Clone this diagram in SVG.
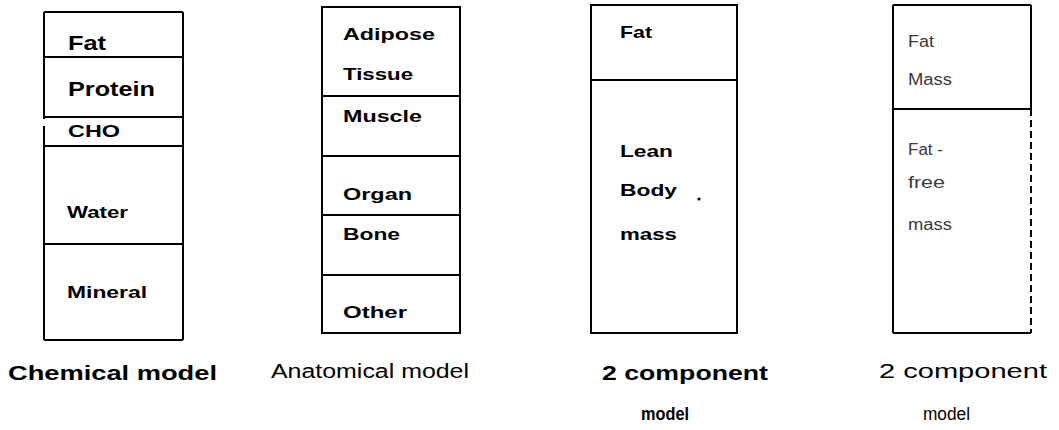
<svg xmlns="http://www.w3.org/2000/svg" width="1059" height="430" viewBox="0 0 1059 430">
<style>
.box{fill:#fff;stroke:#000;stroke-width:2}
.div{stroke:#000;stroke-width:2;fill:none}
.dash{stroke:#000;stroke-width:2;fill:none;stroke-dasharray:7 4}
text{font-family:"Liberation Sans",Arial,sans-serif;fill:#000}
.lb{font-size:21px;font-weight:bold}
.lm{font-size:17px;font-weight:bold}
.lf{font-size:16px;fill:#3a3a3a}
.cap{font-size:21px;font-weight:bold}
.capn{font-size:20px}
.mod{font-size:18px;font-weight:bold}
.modn{font-size:18px}
</style>
<rect width="1059" height="430" fill="#fff"/>

<g id="chemical-model">
<line class="div" x1="44" y1="12" x2="183" y2="12"/>
<line class="div" x1="183" y1="12" x2="183" y2="340"/>
<line class="div" x1="44" y1="340" x2="183" y2="340"/>
<line class="div" x1="44" y1="12" x2="44" y2="119"/>
<line class="div" x1="44" y1="126" x2="44" y2="340"/>
<line class="div" x1="44" y1="57" x2="183" y2="57"/>
<line class="div" x1="44" y1="117" x2="183" y2="117"/>
<line class="div" x1="44" y1="146" x2="183" y2="146"/>
<line class="div" x1="44" y1="244" x2="183" y2="244"/>
<text class="lb" x="68" y="50" textLength="38" lengthAdjust="spacingAndGlyphs">Fat</text>
<text class="lb" x="68" y="96" textLength="87" lengthAdjust="spacingAndGlyphs">Protein</text>
<text class="lm" x="68" y="137" textLength="52" lengthAdjust="spacingAndGlyphs">CHO</text>
<text class="lm" x="67" y="218" textLength="61" lengthAdjust="spacingAndGlyphs">Water</text>
<text class="lm" x="67" y="298" textLength="80" lengthAdjust="spacingAndGlyphs">Mineral</text>
<text class="cap" x="8" y="380" textLength="209" lengthAdjust="spacingAndGlyphs">Chemical model</text>
</g>

<g id="anatomical-model">
<rect class="box" x="322" y="7" width="138" height="326"/>
<line class="div" x1="322" y1="96" x2="460" y2="96"/>
<line class="div" x1="322" y1="156" x2="460" y2="156"/>
<line class="div" x1="322" y1="215" x2="460" y2="215"/>
<line class="div" x1="322" y1="275" x2="460" y2="275"/>
<text class="lm" x="343" y="40" textLength="92" lengthAdjust="spacingAndGlyphs">Adipose</text>
<text class="lm" x="343" y="80" textLength="70" lengthAdjust="spacingAndGlyphs">Tissue</text>
<text class="lm" x="343" y="122" textLength="79" lengthAdjust="spacingAndGlyphs">Muscle</text>
<text class="lm" x="343" y="200" textLength="69" lengthAdjust="spacingAndGlyphs">Organ</text>
<text class="lm" x="343" y="240" textLength="57" lengthAdjust="spacingAndGlyphs">Bone</text>
<text class="lm" x="343" y="318" textLength="64" lengthAdjust="spacingAndGlyphs">Other</text>
<text class="capn" x="271" y="378" textLength="198" lengthAdjust="spacingAndGlyphs">Anatomical model</text>
</g>

<g id="two-component-model-a">
<rect class="box" x="591" y="5" width="146" height="328"/>
<line class="div" x1="591" y1="80" x2="737" y2="80"/>
<text class="lm" x="620" y="38" textLength="32" lengthAdjust="spacingAndGlyphs">Fat</text>
<text class="lm" x="620" y="157" textLength="53" lengthAdjust="spacingAndGlyphs">Lean</text>
<text class="lm" x="620" y="196" textLength="57" lengthAdjust="spacingAndGlyphs">Body</text>
<circle cx="699" cy="199" r="1.6" fill="#000"/>
<text class="lm" x="620" y="240" textLength="57" lengthAdjust="spacingAndGlyphs">mass</text>
<text class="cap" x="602" y="380" textLength="166" lengthAdjust="spacingAndGlyphs">2 component</text>
<text class="mod" x="641" y="420" textLength="48" lengthAdjust="spacingAndGlyphs">model</text>
</g>

<g id="two-component-model-b">
<line class="div" x1="893" y1="5" x2="1031" y2="5"/>
<line class="div" x1="893" y1="5" x2="893" y2="333"/>
<line class="div" x1="893" y1="333" x2="1031" y2="333"/>
<line class="div" x1="1031" y1="5" x2="1031" y2="109"/>
<line class="dash" x1="1031" y1="109" x2="1031" y2="333"/>
<line class="div" x1="893" y1="109" x2="1031" y2="109"/>
<text class="lf" x="908" y="47" textLength="26" lengthAdjust="spacingAndGlyphs">Fat</text>
<text class="lf" x="908" y="85" textLength="44" lengthAdjust="spacingAndGlyphs">Mass</text>
<text class="lf" x="908" y="155" textLength="35" lengthAdjust="spacingAndGlyphs">Fat -</text>
<text class="lf" x="908" y="188" textLength="37" lengthAdjust="spacingAndGlyphs">free</text>
<text class="lf" x="908" y="230" textLength="44" lengthAdjust="spacingAndGlyphs">mass</text>
<text class="capn" x="879" y="378" textLength="168" lengthAdjust="spacingAndGlyphs">2 component</text>
<text class="modn" x="923" y="420" textLength="47" lengthAdjust="spacingAndGlyphs">model</text>
</g>

<g id="connectors"></g>
</svg>
